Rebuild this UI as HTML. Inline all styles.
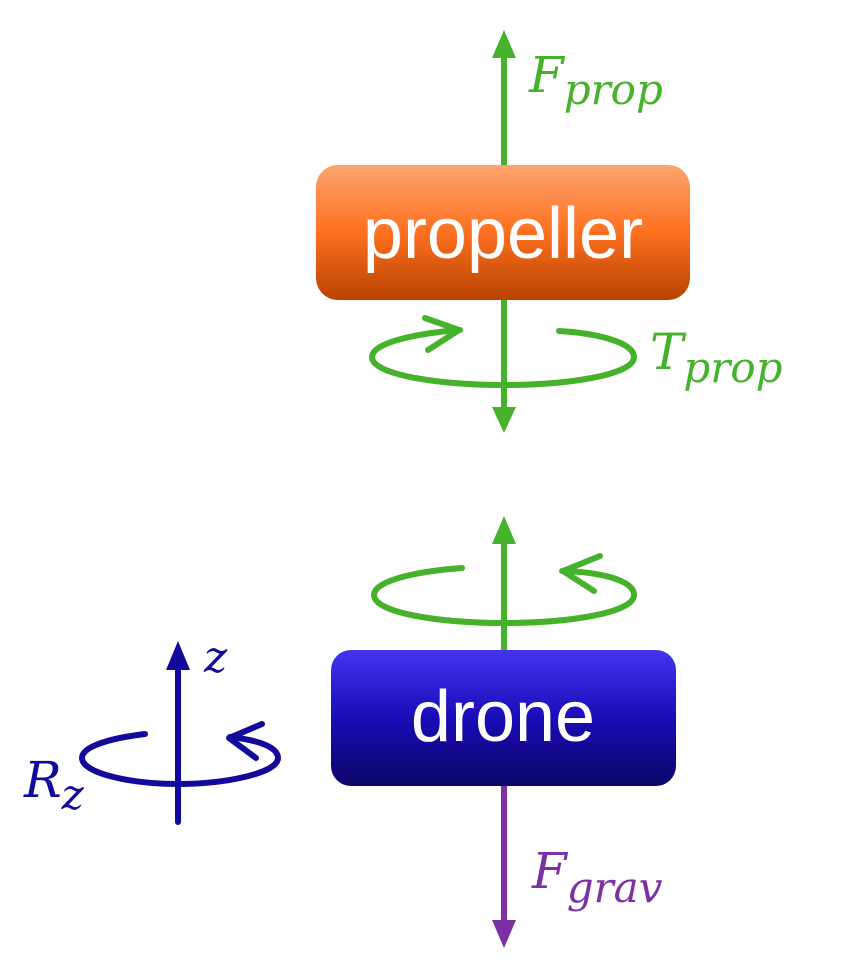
<!DOCTYPE html>
<html><head><meta charset="utf-8"><style>html,body{margin:0;padding:0;background:#fff}svg{display:block}</style></head>
<body>
<svg width="843" height="980" viewBox="0 0 843 980" xmlns="http://www.w3.org/2000/svg">
<defs>
<linearGradient id="og" x1="0" y1="0" x2="0" y2="1">
<stop offset="0" stop-color="#fda46e"/><stop offset="0.5" stop-color="#fd7020"/><stop offset="1" stop-color="#b84300"/>
</linearGradient>
<linearGradient id="bg" x1="0" y1="0" x2="0" y2="1">
<stop offset="0" stop-color="#4434f0"/><stop offset="0.5" stop-color="#1a0cb6"/><stop offset="1" stop-color="#0a0568"/>
</linearGradient>
</defs>
<g fill="none" stroke-linecap="round" stroke-linejoin="round">
<line x1="504" y1="58" x2="504" y2="166" stroke="#46b12b" stroke-width="6"/>
<line x1="504" y1="300" x2="504" y2="410" stroke="#46b12b" stroke-width="6"/>
<path d="M460 330 C420 333 372 342 372 357 C372 375 440 385 504 385 C568 385 634 375 634 357 C634 342 595 333 559 331" stroke="#46b12b" stroke-width="6"/>
<path d="M425 318 L459 330 L428 350" stroke="#46b12b" stroke-width="6"/>
<line x1="504" y1="543" x2="504" y2="651" stroke="#46b12b" stroke-width="6"/>
<path d="M462 568 C420 571 374 580 374 595 C374 613 440 623 504 623 C568 623 634 613 634 595 C634 580 600 572 562 571" stroke="#46b12b" stroke-width="6"/>
<path d="M600 556 L563 571 L594 591" stroke="#46b12b" stroke-width="6"/>
<line x1="504" y1="786" x2="504" y2="922" stroke="#7b30a6" stroke-width="6"/>
<line x1="178" y1="668" x2="178" y2="822" stroke="#120a9c" stroke-width="6"/>
<path d="M145 734 C112 738 82 746 82 758 C82 773 130 784 178 784 C226 784 278 773 278 758 C278 747 258 740 230 737" stroke="#120a9c" stroke-width="6"/>
<path d="M262 724 L229 738 L256 758" stroke="#120a9c" stroke-width="6"/>
</g>
<polygon points="504,30 492,58 516,58" fill="#46b12b"/>
<polygon points="504,433 492,407 516,407" fill="#46b12b"/>
<polygon points="504,516 492,544 516,544" fill="#46b12b"/>
<polygon points="504,948 492,920 516,920" fill="#7b30a6"/>
<polygon points="178,641 166,670 190,670" fill="#120a9c"/>
<rect x="316" y="165" width="374" height="135" rx="22" fill="url(#og)"/>
<rect x="331" y="650" width="345" height="136" rx="20" fill="url(#bg)"/>
<g font-family="Liberation Sans, sans-serif" fill="#fff" font-size="72" text-anchor="middle">
<text x="503" y="258">propeller</text>
<text x="503" y="741">drone</text>
</g>
<g font-family="DejaVu Serif, Liberation Serif, serif" font-style="italic">
<text x="529" y="92" font-size="50" fill="#46b12b">F<tspan font-size="42" dy="12">prop</tspan></text>
<text x="650" y="369" font-size="50" fill="#46b12b">T<tspan font-size="42" dy="13">prop</tspan></text>
<text x="532" y="888" font-size="50" fill="#7b30a6">F<tspan font-size="42" dy="14">grav</tspan></text>
<text x="204" y="672" font-size="44" fill="#120a9c">z</text>
<text x="24" y="797" font-size="50" fill="#120a9c">R<tspan font-size="42" dy="12">z</tspan></text>
</g>
</svg>
</body></html>
